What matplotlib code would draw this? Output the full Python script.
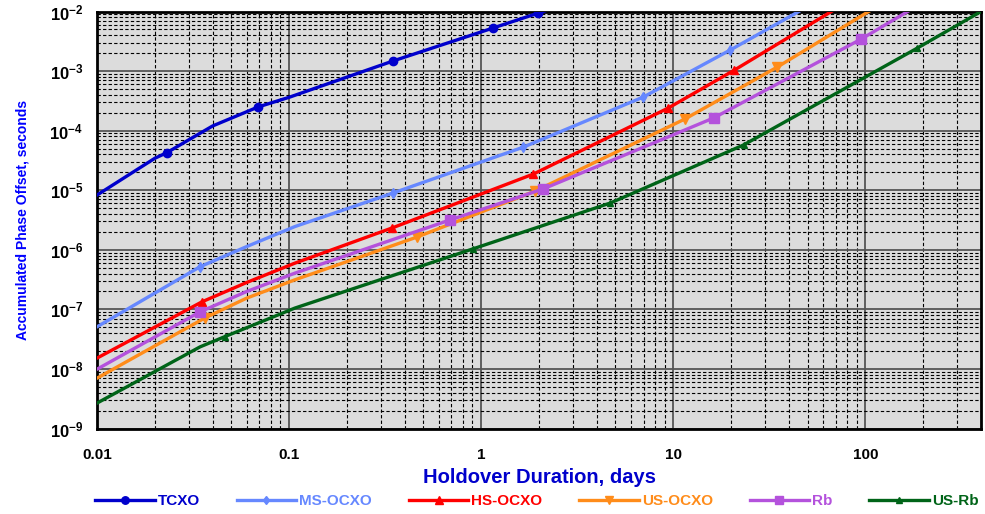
import math
import matplotlib.pyplot as plt
from matplotlib.ticker import FuncFormatter, LogLocator, NullFormatter

plt.rcParams['font.family'] = ['Liberation Sans', 'DejaVu Sans']
plt.rcParams['font.weight'] = 'bold'
plt.rcParams['mathtext.fontset'] = 'custom'
plt.rcParams['mathtext.rm'] = 'Liberation Sans:bold'
plt.rcParams['mathtext.bf'] = 'Liberation Sans:bold'

# Holdover duration (days) vs accumulated phase offset (s)
tcxo_x = [0.01, 0.02, 0.0231, 0.03, 0.04, 0.069, 0.1, 0.348, 1.155, 1.98, 2.3]
tcxo_y = [8.3e-6, 3.44e-5, 4.27e-5, 7.0e-5, 1.2e-4, 2.5e-4, 3.63e-4, 1.48e-3, 5.3e-3, 9.4e-3, 1.1e-2]
tcxo_mk = [2, 5, 7, 8, 9]

ms_x = [0.01, 0.0344, 0.06, 0.107, 0.348, 1.66, 6.98, 19.8, 45]
ms_y = [5.1e-8, 5.2e-7, 1.13e-6, 2.45e-6, 9.0e-6, 5.3e-5, 3.67e-4, 2.26e-3, 1.0e-2]
ms_mk = [1, 4, 5, 6, 7]

hs_x = [0.01, 0.0352, 0.06, 0.107, 0.344, 1.87, 9.42, 20.8, 66.5]
hs_y = [1.52e-8, 1.34e-7, 2.82e-7, 5.96e-7, 2.33e-6, 1.87e-5, 2.4e-4, 1.04e-3, 1.0e-2]
hs_mk = [1, 4, 5, 6, 7]

us_x = [0.01, 0.0365, 0.06, 0.107, 0.464, 1.91, 11.5, 34.8, 104]
us_y = [7.0e-9, 7.2e-8, 1.54e-7, 3.13e-7, 1.64e-6, 9.7e-6, 1.57e-4, 1.17e-3, 1.0e-2]
us_mk = [1, 4, 5, 6, 7]

rb_x = [0.01, 0.0344, 0.06, 0.107, 0.69, 2.1, 16.2, 95.3, 166]
rb_y = [9.9e-9, 9.1e-8, 1.99e-7, 4.05e-7, 3.18e-6, 1.05e-5, 1.63e-4, 3.46e-3, 1.0e-2]
rb_mk = [1, 4, 5, 6, 7]

usrb_x = [0.01, 0.0344, 0.0464, 0.107, 0.908, 4.7, 23.2, 186.6, 400]
usrb_y = [2.67e-9, 2.35e-8, 3.5e-8, 1.05e-7, 1.04e-6, 6.1e-6, 5.75e-5, 2.44e-3, 1.0e-2]
usrb_mk = [2, 4, 5, 6, 7]

series = [
    ("TCXO", tcxo_x, tcxo_y, tcxo_mk, "#0000cc", "o", 6),
    ("MS-OCXO", ms_x, ms_y, ms_mk, "#6688ff", "d", 5),
    ("HS-OCXO", hs_x, hs_y, hs_mk, "#ff0000", "^", 6),
    ("US-OCXO", us_x, us_y, us_mk, "#ff8c1a", "v", 7),
    ("Rb", rb_x, rb_y, rb_mk, "#b452dc", "s", 7),
    ("US-Rb", usrb_x, usrb_y, usrb_mk, "#006418", "^", 5),
]

fig = plt.figure(figsize=(9.85, 5.14), dpi=100)
ax = fig.add_axes([0.0985, 0.1663, 0.8975, 0.8113])
ax.set_facecolor("#dcdcdc")

for name, xs, ys, mk, col, m, ms in series:
    ax.plot(xs, ys, color=col, lw=2.4, marker=m, ms=ms, markevery=mk,
            label=name, zorder=3)

ax.set_xscale("log")
ax.set_yscale("log")
ax.set_xlim(0.01, 400)
ax.set_ylim(1e-9, 1e-2)

ax.xaxis.set_major_locator(LogLocator(base=10, numticks=10))
ax.xaxis.set_minor_locator(LogLocator(base=10, subs=range(2, 10), numticks=20))
ax.yaxis.set_major_locator(LogLocator(base=10, numticks=12))
ax.yaxis.set_minor_locator(LogLocator(base=10, subs=range(2, 10), numticks=20))
ax.xaxis.set_major_formatter(FuncFormatter(lambda v, p: "%g" % v))
ax.yaxis.set_major_formatter(FuncFormatter(lambda v, p: r"$\mathbf{10^{%d}}$" % round(math.log10(v))))
ax.xaxis.set_minor_formatter(NullFormatter())
ax.yaxis.set_minor_formatter(NullFormatter())

ax.grid(which="major", color="#555555", lw=1.3, ls="-", zorder=1)
ax.grid(which="minor", color="black", lw=0.8, ls=(0, (3, 2)), zorder=1)
ax.set_axisbelow(True)

ax.tick_params(which="both", length=0)
ax.tick_params(axis="x", pad=14, labelsize=11)
ax.tick_params(axis="y", pad=10, labelsize=12)
for s in ax.spines.values():
    s.set_linewidth(2)

ax.set_xlabel("Holdover Duration, days", fontsize=14.5, color="#0000cc",
              fontweight="bold", labelpad=4)
ax.set_ylabel("Accumulated Phase Offset, seconds", fontsize=10, color="#0000ff",
              fontweight="bold", labelpad=14)

leg = fig.legend(loc="lower center", bbox_to_anchor=(0.545, -0.015), ncol=6,
                 frameon=False, labelcolor="linecolor", fontsize=11,
                 handlelength=3.9, handletextpad=0.2, columnspacing=2.4,
                 markerscale=0.9)
for t in leg.get_texts():
    t.set_fontweight("bold")

fig.savefig("out.png", dpi=100)
